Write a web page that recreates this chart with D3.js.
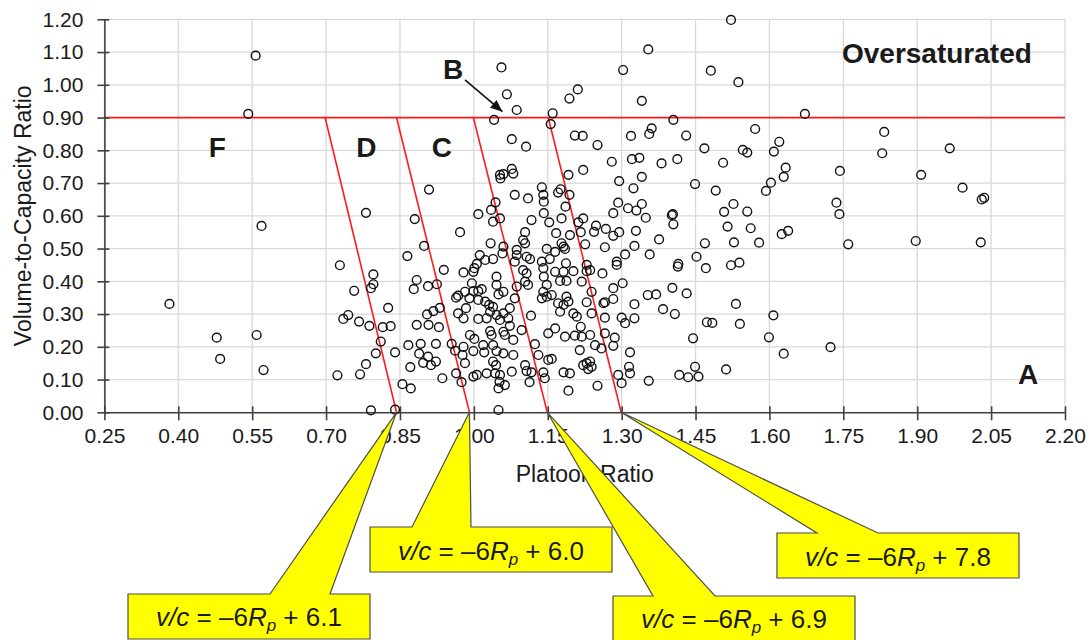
<!DOCTYPE html>
<html>
<head>
<meta charset="utf-8">
<script src="https://cdn.jsdelivr.net/npm/d3@7"></script>
<style>
body { margin: 0; background: #fff; }
text { font-family: "Liberation Sans", Arial, sans-serif; fill: #1a1a1a; }
</style>
</head>
<body>
<div class="container"></div>
<script>
const xTicks = [0.25, 0.40, 0.55, 0.70, 0.85, 1.00, 1.15, 1.30, 1.45, 1.60, 1.75, 1.90, 2.05, 2.20];
const yTicks = [0, 0.1, 0.2, 0.3, 0.4, 0.5, 0.6, 0.7, 0.8, 0.9, 1.0, 1.1, 1.2];

// [platoon ratio, v/c ratio]
const observations = [
  [0.557,1.089],[0.542,0.911],[0.569,0.569],[0.382,0.331],[0.478,0.228],[0.485,0.163],[0.559,0.236],[0.573,0.129],
  [0.728,0.449],[0.757,0.371],[0.745,0.297],[0.735,0.285],[0.767,0.277],[0.723,0.113],[0.769,0.116],
  [0.796,0.421],[0.796,0.391],[0.791,0.379],[0.788,0.264],[0.815,0.260],[0.831,0.263],[0.826,0.319],[0.811,0.216],
  [0.801,0.180],[0.781,0.147],[0.791,0.006],[0.840,0.008],[0.840,0.183],[0.855,0.086],[0.872,0.073],[0.871,0.138],
  [0.867,0.205],[0.884,0.267],[0.892,0.209],[0.889,0.179],[0.897,0.151],[0.907,0.170],[0.913,0.144],[0.923,0.155],
  [0.923,0.209],[0.908,0.267],[0.929,0.260],[0.905,0.299],[0.918,0.309],[0.931,0.319],[0.884,0.404],[0.878,0.376],
  [0.907,0.385],[0.925,0.391],[0.939,0.435],[0.936,0.104],[0.955,0.209],[0.962,0.188],[0.964,0.119],[0.975,0.092],
  [0.968,0.302],[0.979,0.287],[0.964,0.350],[0.968,0.356],[0.982,0.368],[0.979,0.427],[0.999,0.429],[1.001,0.440],
  [0.996,0.394],[0.999,0.370],[0.991,0.348],[0.984,0.318],[1.009,0.370],[1.016,0.376],[1.009,0.343],[1.023,0.338],
  [1.031,0.328],[1.039,0.322],[1.046,0.414],[1.046,0.389],[1.050,0.360],[1.060,0.368],[1.009,0.285],[1.033,0.307],
  [1.026,0.287],[1.046,0.297],[1.053,0.282],[1.060,0.302],[1.073,0.318],[1.070,0.287],[1.073,0.264],[0.992,0.236],
  [1.001,0.224],[1.033,0.248],[1.036,0.236],[1.060,0.246],[1.063,0.236],[0.979,0.200],[0.977,0.175],[0.982,0.150],
  [0.999,0.187],[1.019,0.205],[1.021,0.183],[1.039,0.205],[1.046,0.187],[1.060,0.180],[1.039,0.155],[1.045,0.144],
  [1.026,0.119],[1.043,0.119],[1.053,0.114],[1.006,0.114],[0.999,0.109],[1.080,0.175],[1.077,0.124],[1.063,0.083],
  [1.050,0.073],[1.052,0.093],[1.050,0.007],[1.087,0.384],[1.083,0.348],[1.080,0.221],
  [1.041,0.893],[1.077,0.834],[0.909,0.680],[0.781,0.609],[0.880,0.590],[0.972,0.550],[0.899,0.508],[0.865,0.477],
  [1.053,0.725],[1.060,0.727],[1.077,0.743],[1.080,0.729],[1.054,0.714],[1.083,0.664],[1.044,0.641],[1.035,0.618],
  [1.009,0.605],[1.053,0.592],[1.039,0.582],[1.034,0.516],[1.060,0.506],[1.058,0.485],[1.039,0.468],[1.012,0.480],
  [1.023,0.465],[1.006,0.453],[1.087,0.496],[1.087,0.480],[1.083,0.460],
  [1.056,1.053],[1.067,0.971],[1.087,0.923],[1.106,0.811],[1.354,1.108],[1.303,1.045],[1.211,0.986],[1.194,0.958],
  [1.341,0.951],[1.160,0.913],[1.156,0.880],[1.405,0.893],[1.361,0.867],[1.356,0.850],[1.205,0.845],[1.221,0.844],
  [1.319,0.844],[1.251,0.816],[1.431,0.845],[1.280,0.765],[1.321,0.773],[1.336,0.777],[1.381,0.760],[1.413,0.773],
  [1.222,0.740],[1.192,0.725],[1.295,0.706],[1.341,0.719],[1.324,0.684],[1.449,0.697],[1.138,0.687],[1.141,0.664],
  [1.142,0.643],[1.110,0.653],[1.171,0.671],[1.176,0.681],[1.194,0.664],[1.186,0.628],[1.293,0.640],[1.313,0.623],
  [1.330,0.616],[1.341,0.636],[1.283,0.608],[1.404,0.605],[1.142,0.608],
  [1.468,0.806],[1.117,0.587],[1.153,0.580],[1.178,0.592],[1.212,0.580],[1.222,0.592],[1.248,0.570],[1.244,0.551],
  [1.268,0.560],[1.283,0.539],[1.295,0.550],[1.329,0.554],[1.349,0.594],[1.402,0.602],[1.405,0.574],[1.104,0.550],
  [1.167,0.547],[1.195,0.541],[1.217,0.550],[1.226,0.513],[1.266,0.504],[1.178,0.516],[1.182,0.506],[1.185,0.499],
  [1.148,0.499],[1.165,0.490],[1.326,0.508],[1.376,0.528],[1.357,0.482],[1.307,0.482],[1.290,0.460],[1.452,0.475],
  [1.469,0.516],[1.415,0.453],[1.104,0.516],[1.100,0.526],[1.107,0.475],[1.114,0.468],[1.138,0.460],[1.154,0.468],
  [1.187,0.455],[1.229,0.450],
  [1.100,0.434],[1.107,0.424],[1.104,0.399],[1.110,0.389],[1.141,0.440],[1.142,0.414],[1.165,0.429],[1.182,0.429],
  [1.202,0.431],[1.188,0.401],[1.175,0.401],[1.229,0.431],[1.236,0.434],[1.261,0.424],[1.219,0.399],[1.290,0.450],
  [1.302,0.394],[1.283,0.379],[1.239,0.368],[1.148,0.389],[1.141,0.368],[1.148,0.353],[1.158,0.358],[1.138,0.348],
  [1.188,0.353],[1.192,0.338],[1.171,0.333],[1.182,0.328],[1.229,0.336],[1.263,0.333],[1.266,0.336],[1.283,0.346],
  [1.202,0.302],[1.209,0.292],[1.175,0.307],[1.239,0.302],[1.266,0.289],[1.300,0.289],[1.307,0.272],[1.326,0.330],
  [1.326,0.287],[1.353,0.358],[1.370,0.360],[1.403,0.380],[1.432,0.363],[1.384,0.315],[1.408,0.300],[1.116,0.295],
  [1.097,0.251],[1.165,0.256],[1.151,0.241],[1.185,0.231],[1.217,0.261],[1.205,0.234],[1.219,0.231],[1.236,0.236],
  [1.266,0.241],[1.286,0.228],[1.246,0.205],[1.259,0.195],[1.283,0.203],[1.215,0.190],[1.124,0.208],[1.131,0.175],
  [1.151,0.160],[1.158,0.163],[1.317,0.183],[1.222,0.144],[1.229,0.150],[1.236,0.155],[1.239,0.139],[1.232,0.132],
  [1.104,0.144],[1.107,0.126],[1.117,0.122],[1.141,0.122],[1.144,0.104],[1.182,0.122],[1.195,0.119],[1.113,0.092],
  [1.192,0.066],[1.251,0.081],[1.293,0.114],[1.300,0.089],[1.315,0.139],[1.317,0.119],[1.355,0.096],[1.417,0.114],
  [1.435,0.107],[1.449,0.139],[1.456,0.109],[1.445,0.226],[1.473,0.275],[1.471,0.440],[1.414,0.445],
  [1.522,1.198],[1.481,1.043],[1.537,1.008],[1.672,0.911],[1.571,0.865],[1.506,0.762],[1.546,0.801],[1.555,0.793],
  [1.609,0.796],[1.620,0.826],[1.633,0.747],[1.629,0.719],[1.603,0.701],[1.593,0.676],[1.491,0.677],[1.527,0.636],
  [1.508,0.612],[1.555,0.613],[1.743,0.737],[1.736,0.640],[1.742,0.605],[1.833,0.856],[1.829,0.791],[1.908,0.725],
  [1.966,0.806],[1.992,0.686],[2.031,0.650],[2.036,0.655],
  [1.515,0.567],[1.562,0.562],[1.625,0.544],[1.638,0.554],[1.528,0.519],[1.579,0.518],[1.760,0.513],[1.897,0.523],
  [2.029,0.519],[1.522,0.449],[1.539,0.457],[1.532,0.331],[1.608,0.296],[1.484,0.273],[1.540,0.270],[1.599,0.229],
  [1.629,0.179],[1.724,0.199],[1.512,0.131]
];

const saturation = 0.90;
const boundaryTop = [0.698, 0.843, 0.999, 1.151];
const boundaryBottom = [0.843, 0.991, 1.149, 1.299];
const intercepts = ["6.1", "6.0", "6.9", "7.8"];
const zoneNames = ["F", "D", "C", "B", "A", "Oversaturated"];

// layout
const width = 1090, height = 640;
const zonePos = [[0.479, 0.81], [0.782, 0.81], [0.935, 0.81], [0.958, 1.05], [2.125, 0.117], [1.94, 1.096]];
const callouts = [
  {x: 128, y: 594, base: [142, 202], baseline: 626},
  {x: 370, y: 527, base: [42, 101], baseline: 560},
  {x: 613, y: 596, base: [40, 102], baseline: 628},
  {x: 777, y: 533, base: [40, 101], baseline: 566}
];
const boxW = 242, boxH = 45;

const svg = d3.select(".container")
              .append("svg")
              .attr("width", width)
              .attr("height", height)
              .style("display", "block");

const x = d3.scaleLinear().domain([0.25, 2.20]).range([104.4, 1065]);
const y = d3.scaleLinear().domain([0, 1.2]).range([412.3, 19.3]);

// grid
svg.append("g")
   .selectAll("line")
   .data(xTicks)
   .join("line")
   .attr("x1", d => x(d)).attr("x2", d => x(d))
   .attr("y1", y(0)).attr("y2", y(1.2))
   .attr("stroke", "#d9d9d9").attr("stroke-width", 1.3);
svg.append("g")
   .selectAll("line")
   .data(yTicks)
   .join("line")
   .attr("x1", x(0.25)).attr("x2", x(2.20))
   .attr("y1", d => y(d)).attr("y2", d => y(d))
   .attr("stroke", "#d9d9d9").attr("stroke-width", 1.3);

// zone boundaries
svg.append("line")
   .attr("x1", x(0.25)).attr("x2", x(2.20))
   .attr("y1", y(saturation)).attr("y2", y(saturation))
   .attr("stroke", "#ff1a1a").attr("stroke-width", 1.8);
svg.append("g")
   .selectAll("line")
   .data(d3.range(boundaryTop.length))
   .join("line")
   .attr("x1", i => x(boundaryTop[i])).attr("y1", y(saturation))
   .attr("x2", i => x(boundaryBottom[i])).attr("y2", y(0))
   .attr("stroke", "#ff1a1a").attr("stroke-width", 1.6);

// axes
const xAxis = svg.append("g")
                 .attr("transform", `translate(0,${y(0)})`)
                 .call(d3.axisBottom(x).tickValues(xTicks).tickFormat(d3.format(".2f")).tickSize(8).tickSizeOuter(0));
const yAxis = svg.append("g")
                 .attr("transform", `translate(${x(0.25)},0)`)
                 .call(d3.axisLeft(y).tickValues(yTicks).tickFormat(d3.format(".2f")).tickSize(7).tickSizeOuter(0));
xAxis.selectAll(".tick line").attr("y1", -6);
yAxis.selectAll(".tick line").attr("x1", 5);
[xAxis, yAxis].forEach(a => {
  a.select(".domain").attr("stroke", "#404040").attr("stroke-width", 1.6);
  a.selectAll(".tick line").attr("stroke", "#404040").attr("stroke-width", 1.6);
  a.selectAll(".tick text").style("font-size", "21px").attr("fill", "#1a1a1a")
   .style("font-family", "'Liberation Sans', Arial, sans-serif");
});
xAxis.selectAll(".tick text").attr("y", 16);
yAxis.selectAll(".tick text").attr("x", -21);

svg.append("text")
   .attr("x", (x(0.25) + x(2.20)) / 2).attr("y", 482)
   .attr("text-anchor", "middle")
   .style("font-size", "23px")
   .text("Platoon Ratio");
svg.append("text")
   .attr("transform", `translate(31,${(y(0) + y(1.2)) / 2}) rotate(-90)`)
   .attr("text-anchor", "middle")
   .style("font-size", "23px")
   .text("Volume-to-Capacity Ratio");

// points
svg.append("g")
   .selectAll("circle")
   .data(observations)
   .join("circle")
   .attr("cx", d => x(d[0]))
   .attr("cy", d => y(d[1]))
   .attr("r", 4.4)
   .attr("fill", "none")
   .attr("stroke", "#111")
   .attr("stroke-width", 1.4);

// zone letters
svg.append("g")
   .selectAll("text")
   .data(zoneNames)
   .join("text")
   .attr("x", (d, i) => x(zonePos[i][0]))
   .attr("y", (d, i) => y(zonePos[i][1]))
   .attr("dy", "0.36em")
   .attr("text-anchor", "middle")
   .style("font-size", "28px")
   .style("font-weight", "bold")
   .attr("fill", "#000")
   .text(d => d);

svg.append("defs")
   .append("marker")
   .attr("id", "arrow")
   .attr("viewBox", "0 0 12 10")
   .attr("refX", 12).attr("refY", 5)
   .attr("markerWidth", 13).attr("markerHeight", 10)
   .attr("markerUnits", "userSpaceOnUse")
   .attr("orient", "auto")
   .append("path")
   .attr("d", "M0,0 L12,5 L0,10 Z")
   .attr("fill", "#111");
svg.append("line")
   .attr("x1", x(0.982)).attr("y1", y(1.015))
   .attr("x2", x(1.058)).attr("y2", y(0.918))
   .attr("stroke", "#111").attr("stroke-width", 1.6)
   .attr("marker-end", "url(#arrow)");

// callouts
const calloutG = svg.append("g")
                    .selectAll("g")
                    .data(intercepts)
                    .join("g");
calloutG.append("path")
        .attr("d", (d, i) => {
          const c = callouts[i];
          const tip = [x(boundaryBottom[i]), y(0)];
          return `M${c.x},${c.y} L${c.x + c.base[0]},${c.y} L${tip[0]},${tip[1]} L${c.x + c.base[1]},${c.y}`
               + ` L${c.x + boxW},${c.y} L${c.x + boxW},${c.y + boxH} L${c.x},${c.y + boxH} Z`;
        })
        .attr("fill", "#ffff00")
        .attr("stroke", "#4d4d4d")
        .attr("stroke-width", 1.2);
const label = calloutG.append("text")
                      .attr("x", (d, i) => callouts[i].x + boxW / 2)
                      .attr("y", (d, i) => callouts[i].baseline)
                      .attr("text-anchor", "middle")
                      .style("font-size", "26px")
                      .attr("fill", "#000");
label.append("tspan").style("font-style", "italic").text("v/c");
label.append("tspan").text(" = \u20136");
label.append("tspan").style("font-style", "italic").text("R");
label.append("tspan").style("font-style", "italic").style("font-size", "17px").attr("dy", 5).text("p");
label.append("tspan").attr("dy", -5).text(d => " + " + d);
</script>
</body>
</html>
